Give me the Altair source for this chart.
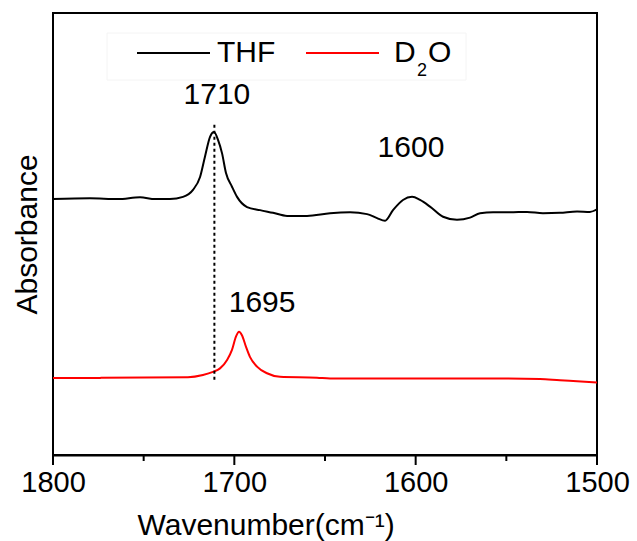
import altair as alt
import pandas as pd

FONT = "Liberation Sans"

# THF spectrum (wavenumber, absorbance in arbitrary units)
thf_wn = [1800.0, 1779.6, 1764.2, 1752.0, 1743.7, 1735.5, 1728.3, 1722.8, 1718.9,
          1716.2, 1713.4, 1711.2, 1709.0, 1706.8, 1704.6, 1701.3, 1698.5, 1693.0,
          1685.8, 1678.7, 1670.9, 1659.9, 1647.2, 1636.2, 1626.8, 1621.3, 1616.9,
          1612.5, 1607.0, 1602.0, 1597.6, 1592.1, 1584.9, 1577.2, 1570.0, 1564.5,
          1557.3, 1548.0, 1538.6, 1529.8, 1520.4, 1511.0, 1503.9, 1500.0]
thf_abs = [0.579, 0.581, 0.579, 0.583, 0.579, 0.579, 0.584, 0.600, 0.629,
           0.675, 0.720, 0.731, 0.713, 0.683, 0.638, 0.607, 0.584, 0.561,
           0.554, 0.548, 0.541, 0.541, 0.547, 0.549, 0.545, 0.536, 0.530,
           0.554, 0.577, 0.584, 0.577, 0.562, 0.539, 0.532, 0.537, 0.547,
           0.549, 0.549, 0.550, 0.547, 0.548, 0.551, 0.550, 0.556]

# D2O spectrum
d2o_wn = [1800.0, 1774.1, 1773.5, 1725.6, 1717.3, 1711.8, 1707.9, 1704.0, 1701.3,
          1699.1, 1697.4, 1695.8, 1693.6, 1691.4, 1687.5, 1682.0, 1674.8, 1654.4,
          1647.2, 1553.5, 1531.4, 1520.4, 1511.0, 1500.0]
d2o_abs = [0.174, 0.174, 0.175, 0.176, 0.181, 0.188, 0.196, 0.215, 0.238,
           0.268, 0.279, 0.271, 0.245, 0.222, 0.200, 0.185, 0.177, 0.175,
           0.173, 0.173, 0.172, 0.169, 0.167, 0.164]

series_names = ["THF", "D2O"]
series_colors = ["#000000", "#ff0000"]

peak_labels = ["1710", "1600", "1695"]
peak_label_wn = [1709.6, 1602.6, 1684.7]
peak_label_abs = [0.814, 0.695, 0.344]

marker_wn = [1711]
marker_top = [0.747]
marker_bottom = [0.170]

major_ticks = [1800, 1700, 1600, 1500]
minor_ticks = [1750, 1650, 1550]

df = pd.concat([
    pd.DataFrame({"wn": thf_wn, "abs": thf_abs, "series": "THF"}),
    pd.DataFrame({"wn": d2o_wn, "abs": d2o_abs, "series": "D2O"}),
])

x_scale = alt.Scale(domain=[1500, 1800], reverse=True, nice=False, zero=False)
y_scale = alt.Scale(domain=[0, 1], nice=False, zero=False)

x_axis = alt.Axis(
    values=major_ticks, format="d", labelFlush=False,
    ticks=False, domainColor="black", domainWidth=2,
    labelFont=FONT, labelFontSize=29, labelColor="black", labelPadding=13,
    grid=False, title="Wavenumber(cm\u207b\u00b9)",
    titleFont=FONT, titleFontSize=30, titleFontWeight="normal", titleColor="black",
    titleAnchor="start", titleAlign="left", titleX=84, titleY=79,
    titleBaseline="alphabetic",
)
y_axis = alt.Axis(
    title="Absorbance", labels=False, ticks=False, domain=False, grid=False,
    titleFont=FONT, titleFontSize=30, titleFontWeight="normal", titleColor="black",
    titlePadding=11, minExtent=0,
)

lines = alt.Chart(df).mark_line(strokeWidth=2, interpolate="monotone").encode(
    x=alt.X("wn:Q", scale=x_scale, axis=x_axis),
    y=alt.Y("abs:Q", scale=y_scale, axis=y_axis),
    color=alt.Color("series:N", scale=alt.Scale(domain=series_names, range=series_colors), legend=None),
    detail="series:N",
)

major = alt.Chart(pd.DataFrame({"wn": major_ticks})).mark_rule(color="black", strokeWidth=2).encode(
    x=alt.X("wn:Q", scale=x_scale), y=alt.value(442), y2=alt.value(452))
minor = alt.Chart(pd.DataFrame({"wn": minor_ticks})).mark_rule(color="black", strokeWidth=2).encode(
    x=alt.X("wn:Q", scale=x_scale), y=alt.value(442), y2=alt.value(448))

marker = alt.Chart(pd.DataFrame({"wn": marker_wn, "top": marker_top, "bottom": marker_bottom})).mark_rule(
    color="black", strokeWidth=2, strokeDash=[3, 3]
).encode(x=alt.X("wn:Q", scale=x_scale), y=alt.Y("top:Q", scale=y_scale), y2="bottom:Q")

labels = alt.Chart(pd.DataFrame({"wn": peak_label_wn, "abs": peak_label_abs, "t": peak_labels})).mark_text(
    font=FONT, fontSize=30, color="black", align="center", baseline="middle"
).encode(x=alt.X("wn:Q", scale=x_scale), y=alt.Y("abs:Q", scale=y_scale), text="t:N")

one = pd.DataFrame({"k": [0]})
legend_box = alt.Chart(one).mark_rect(fill="white", stroke="#f4f4f4", strokeWidth=1).encode(
    x=alt.value(54), x2=alt.value(413), y=alt.value(20), y2=alt.value(67))
leg_line1 = alt.Chart(one).mark_rule(color=series_colors[0], strokeWidth=2).encode(
    x=alt.value(84), x2=alt.value(157), y=alt.value(40))
leg_line2 = alt.Chart(one).mark_rule(color=series_colors[1], strokeWidth=2).encode(
    x=alt.value(253), x2=alt.value(326), y=alt.value(40))
leg_t1 = alt.Chart(one).mark_text(font=FONT, fontSize=30, align="left", baseline="middle", color="black").encode(
    x=alt.value(164), y=alt.value(40), text=alt.value("THF"))
leg_d = alt.Chart(one).mark_text(font=FONT, fontSize=30, align="left", baseline="middle", color="black").encode(
    x=alt.value(341), y=alt.value(40), text=alt.value("D"))
leg_2 = alt.Chart(one).mark_text(font=FONT, fontSize=18, align="left", baseline="middle", color="black").encode(
    x=alt.value(364), y=alt.value(58), text=alt.value("2"))
leg_o = alt.Chart(one).mark_text(font=FONT, fontSize=30, align="left", baseline="middle", color="black").encode(
    x=alt.value(375), y=alt.value(40), text=alt.value("O"))

chart = alt.layer(
    lines, major, minor, marker, labels, legend_box, leg_line1, leg_line2, leg_t1, leg_d, leg_2, leg_o
).properties(
    width=544, height=442,
    padding={"left": 53, "top": 13, "right": 40, "bottom": 86},
    autosize="none",
).configure(background="white").configure_view(stroke="black", strokeWidth=2)

chart.save("out.html", embed_options={"renderer": "svg", "actions": False})
